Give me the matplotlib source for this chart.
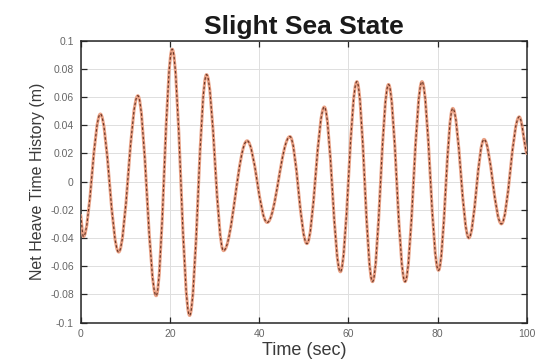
import matplotlib
matplotlib.use("Agg")
import matplotlib.pyplot as plt
from matplotlib.path import Path
from matplotlib.patches import PathPatch

# Turning points (peaks/troughs) of the heave record
time_s = [0.0, 0.6, 4.4, 8.5, 12.8, 16.9, 20.5, 24.4, 28.2, 32.0, 37.3, 41.8,
          46.9, 50.7, 54.6, 58.2, 61.9, 65.4, 69.0, 72.7, 76.5, 80.2, 83.4,
          87.0, 90.4, 94.3, 98.3, 100.0]
heave_m = [-0.024, -0.039, 0.048, -0.050, 0.061, -0.081, 0.094, -0.095, 0.076,
           -0.049, 0.029, -0.029, 0.032, -0.044, 0.053, -0.064, 0.071, -0.071,
           0.069, -0.071, 0.071, -0.063, 0.052, -0.040, 0.030, -0.030, 0.046,
           0.020]

x_ticks = [0, 20, 40, 60, 80, 100]
x_tick_labels = ["0", "20", "40", "60", "80", "100"]
y_ticks = [-0.1, -0.08, -0.06, -0.04, -0.02, 0, 0.02, 0.04, 0.06, 0.08, 0.1]
y_tick_labels = ["-0.1", "-0.08", "-0.06", "-0.04", "-0.02", "0", "0.02",
                 "0.04", "0.06", "0.08", "0.1"]

plt.rcParams['font.family'] = ['Liberation Sans', 'DejaVu Sans']

fig = plt.figure(figsize=(5.42, 3.64), dpi=100)
ax = fig.add_axes([0.149, 0.114, 0.823, 0.774])


def wave_path(ts, vs):
    """Smooth path through turning points using cubic Bezier segments."""
    k = 0.364
    verts = [(ts[0], vs[0])]
    codes = [Path.MOVETO]
    n = len(ts)
    for i in range(n - 1):
        t0, v0, t1, v1 = ts[i], vs[i], ts[i + 1], vs[i + 1]
        dt = t1 - t0
        if i == 0:
            c1 = (t0 + dt / 3, v0 + (v1 - v0) / 3)
        else:
            c1 = (t0 + k * dt, v0)
        if i == n - 2:
            c2 = (t1 - dt / 3, v1 + (v0 - v1) / 6)
        else:
            c2 = (t1 - k * dt, v1)
        verts += [c1, c2, (t1, v1)]
        codes += [Path.CURVE4, Path.CURVE4, Path.CURVE4]
    return Path(verts, codes)


p = wave_path(time_s, heave_m)
ax.add_patch(PathPatch(p, fill=False, edgecolor='#eaa286', lw=2.2,
                       capstyle='round', joinstyle='round', zorder=3))
ax.add_patch(PathPatch(p, fill=False, edgecolor='#6a3626', lw=0.85,
                       linestyle=(0, (2.2, 1.8)), zorder=4))

ax.set_xlim(0, 100)
ax.set_ylim(-0.1, 0.1)
ax.set_xticks(x_ticks)
ax.set_xticklabels(x_tick_labels)
ax.set_yticks(y_ticks)
ax.set_yticklabels(y_tick_labels)

ax.grid(True, color='#dedede', lw=0.7)
ax.set_axisbelow(True)
ax.tick_params(direction='in', top=True, right=True, length=4, width=0.9,
               labelsize=7.5, labelcolor='#666666', color='#262626', pad=5)
for s in ax.spines.values():
    s.set_color('#262626')
    s.set_linewidth(1.1)

ax.set_title("Slight Sea State", fontsize=19, fontweight='bold', pad=5,
             color='#1a1a1a')
ax.set_xlabel("Time (sec)", fontsize=13, color='#3a3a3a', labelpad=2)
ax.set_ylabel("Net Heave Time History (m)", fontsize=11.5, color='#3a3a3a',
              labelpad=4)

fig.savefig("out.png", dpi=100)
